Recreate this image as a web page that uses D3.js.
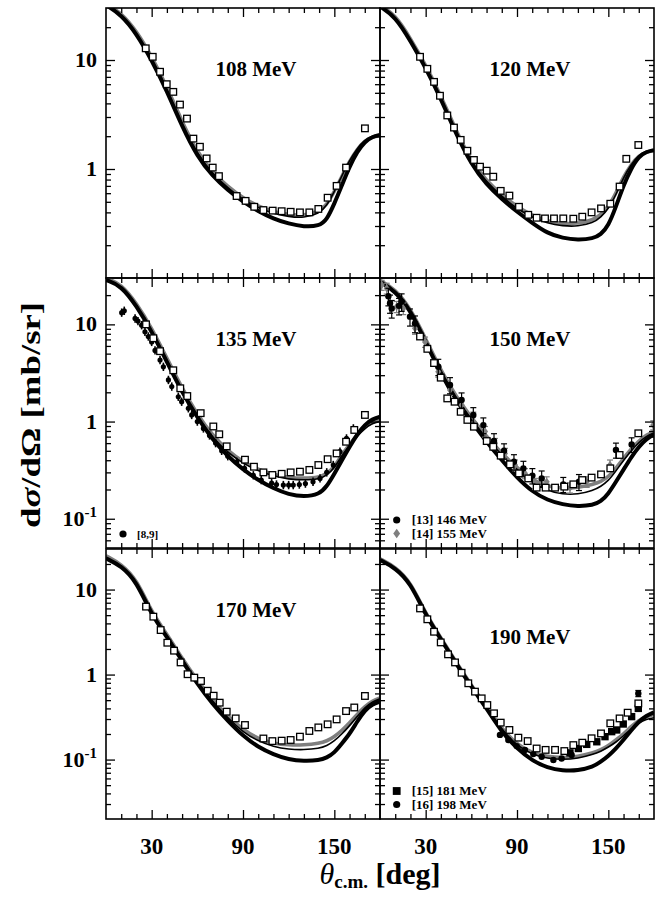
<!DOCTYPE html>
<html><head><meta charset="utf-8">
<script src="https://cdn.jsdelivr.net/npm/d3@7/dist/d3.min.js"></script>
<style>body{margin:0;background:#fff}svg{display:block}</style>
</head><body>
<svg id="c" width="668" height="897"></svg>
<script>
// ---------- data ----------
const ANGLES = [0,10,20,30,40,50,60,70,80,90,100,110,120,130,140,145,150,155,160,165,170,175,180];
const XTICK_MAJOR = [30,90,150];
const XTICK_MINOR = [10,20,40,50,60,70,80,100,110,120,130,140,160,170];
const YTICK_MAJOR = [0.1,1,10];
const YTICK_LABELS = ["10","1","10"];   // 0.1 drawn as 10 with superscript -1
const PANEL_TITLES = ["108 MeV","120 MeV","135 MeV","150 MeV","170 MeV","190 MeV"];

const c108_thick = [32,26,17.5,10,5.2,2.45,1.3,0.86,0.64,0.5,0.41,0.35,0.315,0.295,0.30,0.34,0.48,0.71,1.05,1.44,1.78,1.98,2.05];
const c108_thin  = [32,26,17.5,10.2,5.4,2.55,1.36,0.9,0.67,0.52,0.44,0.39,0.365,0.355,0.39,0.46,0.62,0.87,1.2,1.55,1.85,2.0,2.05];
const c108_gray  = [33,27,18.5,10.8,5.7,2.7,1.42,0.93,0.69,0.54,0.455,0.405,0.38,0.375,0.405,0.47,0.62,0.86,1.18,1.52,1.82,1.98,2.02];

const c120_thick = [31,25,15,8.5,4.4,2.1,1.1,0.72,0.53,0.405,0.32,0.257,0.232,0.223,0.23,0.25,0.30,0.45,0.71,1.01,1.30,1.44,1.49];
const c120_thin  = [31,25,15,8.6,4.5,2.15,1.13,0.76,0.56,0.43,0.36,0.317,0.30,0.297,0.32,0.36,0.43,0.58,0.84,1.1,1.35,1.46,1.5];
const c120_gray  = [32,26,15.8,9.0,4.7,2.25,1.17,0.78,0.58,0.45,0.375,0.33,0.315,0.315,0.34,0.38,0.45,0.6,0.85,1.1,1.33,1.44,1.48];

const c135_thick = [28.6,25,15.5,8.5,4.1,2.0,1.1,0.65,0.44,0.32,0.25,0.205,0.178,0.168,0.178,0.214,0.29,0.40,0.55,0.74,0.93,1.06,1.12];
const c135_thin  = [28.6,25,15.5,8.6,4.2,2.05,1.12,0.68,0.48,0.37,0.31,0.275,0.255,0.25,0.255,0.28,0.33,0.45,0.57,0.71,0.85,0.96,1.0];
const c135_gray  = [30,26,16.5,9.2,4.5,2.2,1.18,0.72,0.50,0.385,0.32,0.285,0.265,0.26,0.265,0.29,0.34,0.46,0.58,0.73,0.88,0.99,1.04];

const c150_thick = [27.5,22,14,6.6,3.1,1.65,1.0,0.62,0.40,0.265,0.19,0.155,0.14,0.134,0.138,0.15,0.18,0.24,0.32,0.43,0.55,0.66,0.74];
const c150_thin  = [27.5,22,14,6.8,3.2,1.72,1.05,0.67,0.45,0.32,0.235,0.195,0.178,0.178,0.195,0.215,0.245,0.31,0.40,0.50,0.61,0.71,0.76];
const c150_gray  = [28.5,23,14.6,7.1,3.35,1.8,1.1,0.70,0.47,0.335,0.25,0.215,0.205,0.21,0.225,0.24,0.27,0.33,0.42,0.52,0.63,0.73,0.79];

const c170_thick = [23.3,19,12.5,5.0,2.8,1.45,0.78,0.45,0.285,0.19,0.14,0.115,0.10,0.096,0.098,0.105,0.12,0.155,0.2,0.28,0.38,0.45,0.48];
const c170_thin  = [23.3,19,12.5,5.1,2.9,1.5,0.82,0.48,0.31,0.21,0.165,0.142,0.132,0.13,0.135,0.145,0.165,0.2,0.25,0.32,0.41,0.48,0.52];
const c170_gray  = [25,20,13.3,5.4,3.0,1.55,0.85,0.5,0.325,0.225,0.175,0.155,0.148,0.148,0.155,0.165,0.185,0.22,0.27,0.34,0.42,0.49,0.53];

const c190_thick = [22.3,18,12,5.0,2.6,1.35,0.72,0.40,0.21,0.135,0.097,0.08,0.074,0.074,0.082,0.094,0.11,0.135,0.17,0.22,0.28,0.33,0.36];
const c190_thin  = [22.3,18,12,5.0,2.6,1.36,0.73,0.41,0.225,0.145,0.115,0.103,0.10,0.103,0.115,0.125,0.14,0.16,0.19,0.23,0.27,0.30,0.31];
const c190_gray  = [23,18.5,12.4,5.2,2.7,1.4,0.75,0.42,0.23,0.15,0.12,0.108,0.105,0.108,0.12,0.13,0.145,0.17,0.2,0.245,0.29,0.32,0.34];

// open squares [deg, value]
const sq108 = [[26.1,12.8],[30.7,10.7],[35.5,7.8],[39.9,6.0],[44.2,5.1],[48.6,3.9],[53.2,2.9],[57.4,1.9],[61.7,1.6],[66.1,1.25],[70.1,1.03],[74.2,0.86],[85.8,0.565],[91.7,0.51],[97.4,0.45],[103.4,0.42],[109.5,0.415],[115.4,0.41],[121.3,0.405],[127.4,0.40],[133.6,0.40],[139.5,0.43],[145.6,0.545],[151.5,0.70],[157.7,1.03],[170.1,2.36]];
const sq120 = [[26.3,10.7],[31.1,8.3],[35.5,6.3],[39.4,4.7],[44.2,3.1],[48.6,2.4],[53.0,1.85],[57.4,1.47],[61.7,1.21],[65.7,1.05],[70.1,0.965],[74.4,0.85],[79.3,0.63],[85.0,0.57],[91.3,0.45],[97.4,0.38],[102.9,0.357],[108.4,0.352],[114.3,0.352],[120.4,0.352],[127.0,0.35],[132.9,0.365],[139.0,0.40],[145.2,0.435],[151.3,0.48],[157.4,0.69],[161.8,1.24],[169.7,1.66]];
const sq135 = [[26.3,10.0],[31.1,7.2],[35.5,5.3],[44.2,3.37],[48.8,2.2],[53.4,1.83],[62.2,1.22],[70.5,0.89],[74.4,0.74],[79.3,0.556],[91.3,0.405],[97.2,0.343],[103.4,0.30],[109.3,0.282],[115.4,0.29],[121.3,0.30],[127.4,0.305],[133.6,0.318],[139.5,0.357],[145.6,0.41],[151.5,0.47],[157.7,0.62],[163.1,0.82],[170.1,1.17]];
const sq150 = [[26.3,7.5],[31.1,5.6],[35.5,4.0],[39.9,2.83],[44.2,1.73],[49.0,1.6],[53.0,1.26],[57.4,1.04],[61.7,0.885],[70.1,0.63],[74.4,0.55],[79.3,0.446],[85.4,0.363],[91.3,0.293],[97.4,0.26],[102.9,0.209],[108.8,0.209],[115.0,0.209],[121.1,0.214],[127.0,0.226],[132.9,0.25],[139.0,0.265],[145.2,0.286],[151.3,0.33],[157.4,0.453],[169.7,0.757]];
const sq170 = [[26.3,6.3],[31.1,4.8],[35.9,3.34],[40.3,2.37],[44.7,1.91],[49.0,1.39],[53.6,1.01],[58.0,0.92],[62.4,0.84],[66.8,0.645],[70.7,0.564],[74.7,0.467],[79.3,0.366],[85.2,0.305],[91.3,0.255],[103.4,0.177],[109.3,0.165],[115.4,0.167],[121.3,0.17],[127.4,0.186],[133.6,0.217],[139.5,0.239],[145.6,0.26],[151.5,0.297],[157.7,0.372],[163.1,0.41],[170.1,0.56]];
const sq190 = [[26.3,6.0],[31.1,4.47],[35.5,3.19],[39.9,2.39],[44.7,1.73],[49.3,1.39],[53.6,1.05],[58.0,0.79],[62.4,0.63],[66.8,0.525],[70.5,0.438],[74.9,0.35],[79.3,0.272],[85.0,0.223],[90.9,0.181],[97.0,0.165],[102.9,0.135],[108.8,0.13],[115.0,0.13],[121.1,0.126],[127.0,0.148],[132.9,0.158],[139.0,0.178],[145.2,0.203],[151.3,0.267],[157.4,0.305],[162.7,0.356],[169.7,0.458]];

// filled data sets [deg, value, error]
const ref89 = [[10.3,13.2],[12.0,13.8],[19.1,11.5],[21.0,10.8],[23.4,9.8],[25.6,8.4],[27.8,7.5],[30.0,6.6],[32.2,5.4],[35.5,4.3],[37.7,3.66],[41.0,2.68],[43.2,2.29],[47.5,1.8],[49.7,1.6],[54.1,1.37],[56.3,1.17],[60,1.0],[64,0.85],[68,0.72],[72,0.6],[76,0.5],[80,0.44],[85.9,0.386],[91,0.33],[96.8,0.28],[102,0.25],[108.8,0.232],[112,0.225],[116.5,0.222],[120,0.222],[123,0.222],[127,0.225],[131,0.23],[136,0.24],[140.6,0.26],[145,0.3],[149.3,0.357],[153.7,0.49],[158,0.67],[162.5,0.85]];
const ref13 = [[5.5,19.5,4],[6.6,16.5,3.5],[7.7,14.6,3],[12.5,15.5,3],[14.2,17.1,3.5],[19.7,12.0,2.4],[23.0,10.2,2],[38.3,3.67,0.7],[46.0,2.38,0.45],[53.6,1.67,0.3],[61.3,1.17,0.22],[67.9,0.92,0.17],[74.9,0.63,0.12],[81.5,0.5,0.09],[88.0,0.386,0.07],[94.2,0.33,0.06],[100.1,0.278,0.05],[106.2,0.26,0.05],[120.4,0.226,0.04],[130.7,0.24,0.045],[155.0,0.51,0.09],[165.3,0.58,0.1]];
const ref14 = [[1.1,25.4,3],[4.4,23.5,3],[10.9,15.2,2],[15.3,14.6,2],[23.0,9.1,1.2],[29.6,6.6,0.8],[38.3,3.26,0.4],[46.0,2.11,0.25],[53.6,1.48,0.18],[61.3,1.12,0.13],[69.0,0.79,0.1],[75.5,0.6,0.07],[82.1,0.47,0.06],[88.7,0.357,0.045],[95.2,0.293,0.035],[101.8,0.23,0.03],[109.5,0.24,0.03],[124.8,0.209,0.025],[135.8,0.24,0.03],[151.1,0.357,0.045],[179.5,0.92,0.1]];
const ref15 = [[124.8,0.12],[130.3,0.135],[135.8,0.151],[142.4,0.162],[147.8,0.186],[152.2,0.213],[155.5,0.223],[159.8,0.262],[165.3,0.32],[169.7,0.40]];
const ref16 = [[78.8,0.195],[84.3,0.17],[89.8,0.144],[95.2,0.13],[100.7,0.116],[106.2,0.108],[113.9,0.099],[119.3,0.103],[125.9,0.113],[169.7,0.60,0.05]];

// ---------- layout ----------
const COLX = [106, 380], ROWY = [8, 278, 549], PW = 274, PH = 270;
const YDOM = [[0.1,30],[0.05,30],[0.02,30]];
const FONT = "'Liberation Serif','Times New Roman',serif";
const GRAY = "#7f7f7f";

const panels = [
  {row:0,col:0,title:PANEL_TITLES[0],ty:61,curves:[c108_gray,c108_thin,c108_thick],sq:sq108,sets:[]},
  {row:0,col:1,title:PANEL_TITLES[1],ty:61,curves:[c120_gray,c120_thin,c120_thick],sq:sq120,sets:[]},
  {row:1,col:0,title:PANEL_TITLES[2],ty:61,curves:[c135_gray,c135_thin,c135_thick],sq:sq135,
    sets:[{d:ref89,sym:"circle",col:"#000",r:2.6,bar:true}],
    legend:[{sym:"circle",col:"#000",label:"[8,9]",fs:11}]},
  {row:1,col:1,title:PANEL_TITLES[3],ty:61,curves:[c150_gray,c150_thin,c150_thick],sq:sq150,
    sets:[{d:ref14,sym:"diamond",col:GRAY,r:3.2},{d:ref13,sym:"circle",col:"#000",r:3.2}],
    legend:[{sym:"circle",col:"#000",label:"[13] 146 MeV",fs:13},{sym:"diamond",col:GRAY,label:"[14] 155 MeV",fs:13}]},
  {row:2,col:0,title:PANEL_TITLES[4],ty:61,curves:[c170_gray,c170_thin,c170_thick],sq:sq170,sets:[]},
  {row:2,col:1,title:PANEL_TITLES[5],ty:88,curves:[c190_gray,c190_thin,c190_thick],sq:sq190,
    sets:[{d:ref15,sym:"square",col:"#000",r:3.2},{d:ref16,sym:"circle",col:"#000",r:3.2}],
    legend:[{sym:"square",col:"#000",label:"[15] 181 MeV",fs:13},{sym:"circle",col:"#000",label:"[16] 198 MeV",fs:13}]}
];

const svg = d3.select("#c");
svg.append("rect").attr("width",668).attr("height",897).attr("fill","#fff");

function drawSym(g, sym, cx, cy, r, col){
  if(sym==="circle") g.append("circle").attr("cx",cx).attr("cy",cy).attr("r",r).attr("fill",col);
  else if(sym==="square") g.append("rect").attr("x",cx-r*1.15).attr("y",cy-r*1.15).attr("width",r*2.3).attr("height",r*2.3).attr("fill",col);
  else if(sym==="diamond") g.append("path").attr("d",`M${cx},${cy-r*1.3}L${cx+r*0.95},${cy}L${cx},${cy+r*1.3}L${cx-r*0.95},${cy}Z`).attr("fill",col);
}

panels.forEach((p,pi)=>{
  const x0 = COLX[p.col], y0 = ROWY[p.row];
  const x = d3.scaleLinear().domain([0,180]).range([x0, x0+PW]);
  const y = d3.scaleLog().domain(YDOM[p.row]).range([y0+PH, y0]);
  const cid = "clip"+pi;
  svg.append("clipPath").attr("id",cid).append("rect").attr("x",x0).attr("y",y0).attr("width",PW).attr("height",PH);
  const g = svg.append("g").attr("clip-path",`url(#${cid})`);

  const line = d3.line().x((d,i)=>x(ANGLES[i])).y(d=>y(d)).curve(d3.curveBasis);
  const styles = [{c:GRAY,w:3.6},{c:"#000",w:1.6},{c:"#000",w:4}];
  p.curves.forEach((arr,k)=>{
    g.append("path").attr("d",line(arr)).attr("fill","none")
      .attr("stroke",styles[k].c).attr("stroke-width",styles[k].w).attr("stroke-linejoin","round");
  });

  // filled data sets
  p.sets.forEach(s=>{
    s.d.forEach(d=>{
      const cx = x(d[0]), cy = y(d[1]);
      if(d.length>2){
        const yt = y(d[1]+d[2]), yb = y(Math.max(d[1]-d[2],1e-4));
        g.append("line").attr("x1",cx).attr("x2",cx).attr("y1",yt).attr("y2",yb).attr("stroke",s.col).attr("stroke-width",1.2);
        g.append("line").attr("x1",cx-3).attr("x2",cx+3).attr("y1",yt).attr("y2",yt).attr("stroke",s.col).attr("stroke-width",1.2);
        g.append("line").attr("x1",cx-3).attr("x2",cx+3).attr("y1",yb).attr("y2",yb).attr("stroke",s.col).attr("stroke-width",1.2);
      }
      if(s.bar){
        g.append("line").attr("x1",cx).attr("x2",cx).attr("y1",cy-4.2).attr("y2",cy+4.2).attr("stroke",s.col).attr("stroke-width",1.6);
      }
      drawSym(g, s.sym, cx, cy, s.r, s.col);
    });
  });

  // open squares
  g.selectAll("rect.sq").data(p.sq).enter().append("rect").attr("class","sq")
    .attr("x",d=>x(d[0])-3.3).attr("y",d=>y(d[1])-3.3).attr("width",6.6).attr("height",6.6)
    .attr("fill","#fff").attr("stroke","#000").attr("stroke-width",1.3);

  // ticks (inward on all four sides)
  const ax = svg.append("g");
  const yMajor = YTICK_MAJOR.filter(v=>v>YDOM[p.row][0]*1.001 && v<YDOM[p.row][1]);
  const yMinor = [];
  [0.01,0.1,1,10].forEach(dec=>{ for(let m=2;m<=9;m++){ const v=m*dec; if(v>YDOM[p.row][0]*1.001 && v<YDOM[p.row][1]*0.999) yMinor.push(v);} });
  const fmt = ()=>"";
  const tickG = (axis, tr) => ax.append("g").attr("transform",tr).call(axis).call(s=>s.select(".domain").remove())
      .call(s=>s.selectAll("line").attr("stroke","#000").attr("stroke-width",1.3));
  tickG(d3.axisBottom(x).tickValues(XTICK_MAJOR).tickSize(-9).tickFormat(fmt), `translate(0,${y0+PH})`);
  tickG(d3.axisBottom(x).tickValues(XTICK_MINOR).tickSize(-5).tickFormat(fmt), `translate(0,${y0+PH})`);
  tickG(d3.axisTop(x).tickValues(XTICK_MAJOR).tickSize(-9).tickFormat(fmt), `translate(0,${y0})`);
  tickG(d3.axisTop(x).tickValues(XTICK_MINOR).tickSize(-5).tickFormat(fmt), `translate(0,${y0})`);
  tickG(d3.axisLeft(y).tickValues(yMajor).tickSize(-9).tickFormat(fmt), `translate(${x0},0)`);
  tickG(d3.axisLeft(y).tickValues(yMinor).tickSize(-5).tickFormat(fmt), `translate(${x0},0)`);
  tickG(d3.axisRight(y).tickValues(yMajor).tickSize(-9).tickFormat(fmt), `translate(${x0+PW},0)`);
  tickG(d3.axisRight(y).tickValues(yMinor).tickSize(-5).tickFormat(fmt), `translate(${x0+PW},0)`);
  ax.selectAll("text").remove();

  // frame
  svg.append("rect").attr("x",x0).attr("y",y0).attr("width",PW).attr("height",PH)
    .attr("fill","none").attr("stroke","#000").attr("stroke-width",1.6);

  // title
  svg.append("text").attr("x",x0+150).attr("y",y0+p.ty+7).attr("text-anchor","middle")
    .attr("font-family",FONT).attr("font-weight","bold").attr("font-size",21).text(p.title);

  // legend
  if(p.legend){
    p.legend.forEach((L,i)=>{
      const ly = y0+PH - (p.row===1 && p.col===0 ? 14 : 28 - i*13.5) ;
      const lx = x0 + (p.col===0 ? 17 : 16.7);
      drawSym(svg, L.sym, lx, ly, L.sym==="square"?3.4:3.6, L.col);
      svg.append("text").attr("x",lx+(p.col===0?14:15)).attr("y",ly+4.3)
        .attr("font-family",FONT).attr("font-weight","bold").attr("font-size",L.fs).text(L.label);
    });
  }

  // y tick labels (left column)
  if(p.col===0){
    YTICK_MAJOR.forEach((v,i)=>{
      if(!(v>YDOM[p.row][0]*1.001 && v<YDOM[p.row][1])) return;
      const t = svg.append("text").attr("x",x0-9).attr("y",y(v)+7).attr("text-anchor","end")
        .attr("font-family",FONT).attr("font-weight","bold").attr("font-size",22);
      if(v===0.1){
        t.append("tspan").text(YTICK_LABELS[i]);
        t.append("tspan").attr("font-size",15).attr("dy",-9).text("-1");
      } else t.text(YTICK_LABELS[i]);
    });
  }
  // x tick labels (bottom row)
  if(p.row===2){
    XTICK_MAJOR.forEach(v=>{
      svg.append("text").attr("x",x(v)).attr("y",854).attr("text-anchor","middle")
        .attr("font-family",FONT).attr("font-weight","bold").attr("font-size",23).text(v);
    });
  }
});

// axis titles
const yt = svg.append("text").attr("transform","translate(40,415) rotate(-90)").attr("text-anchor","middle")
  .attr("font-family",FONT).attr("font-weight","bold").attr("font-size",27)
  .attr("textLength",226).attr("lengthAdjust","spacingAndGlyphs");
yt.append("tspan").text("d");
yt.append("tspan").attr("font-style","italic").text("σ");
yt.append("tspan").text("/dΩ [mb/sr]");

const xt = svg.append("text").attr("x",380).attr("y",884).attr("text-anchor","middle")
  .attr("font-family",FONT).attr("font-size",30);
xt.append("tspan").attr("font-style","italic").text("θ");
xt.append("tspan").attr("font-weight","bold").attr("font-size",19).attr("dy",4).text("c.m.");
xt.append("tspan").attr("font-weight","bold").attr("dy",-4).text(" [deg]");
</script>
</body></html>
